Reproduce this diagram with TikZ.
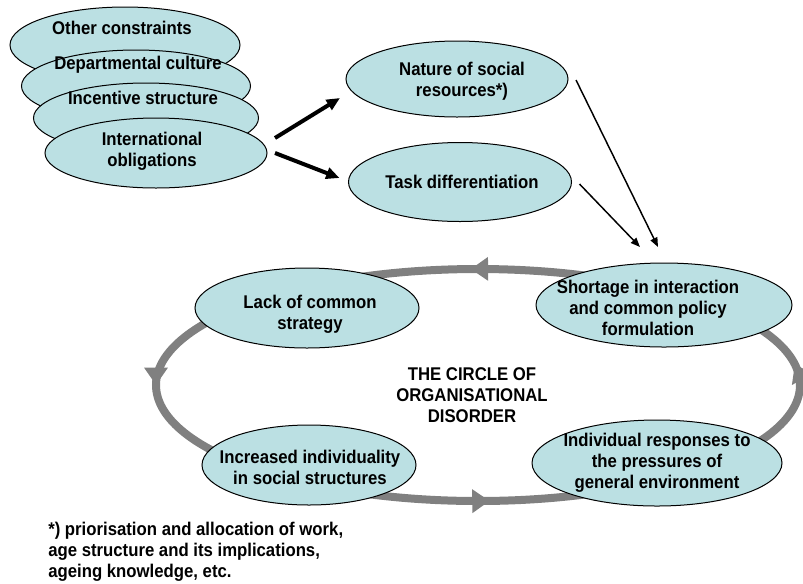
\documentclass[tikz,border=0pt]{standalone}
\usepackage{fontspec}
\setmainfont{Liberation Sans}[FakeStretch=0.91]
\usetikzlibrary{arrows.meta,decorations.markings,shapes.geometric}
\definecolor{blobfill}{RGB}{187,224,227}
\definecolor{ringgrey}{RGB}{128,128,128}
\begin{document}
\begin{tikzpicture}[x=0.75pt,y=-0.75pt,
  blobnode/.style={ellipse,draw=black,line width=0.75pt,fill=blobfill,inner sep=0pt,outer sep=0pt},
  lbl/.style={align=center,font=\fontsize{13.8}{15.8}\selectfont\bfseries,inner sep=0pt},
  fat/.style={line width=3pt,-{Triangle[length=10pt,width=8.5pt]}},
  slim/.style={line width=1.1pt,-{Triangle[length=7pt,width=5.5pt]}}
]
\useasboundingbox (0,0) rectangle (803,583);

% the circle of disorder
\draw[ringgrey, line width=6pt, postaction={decorate},
  decoration={markings,
    mark=at position 0.242 with {\arrowreversed[ringgrey]{Triangle[length=13pt,width=17pt]}},
    mark=at position 0.5 with {\arrowreversed[ringgrey]{Triangle[length=13pt,width=17pt]}},
    mark=at position 0.745 with {\arrowreversed[ringgrey]{Triangle[length=13pt,width=17pt]}},
    mark=at position 0.985 with {\arrowreversed[ringgrey]{Triangle[length=13pt,width=17pt]}}}]
  (478,385) ellipse[x radius=322, y radius=116];

% stacked constraints
\node[blobnode, minimum width=172.5pt, minimum height=57pt] (oc) at (125,45) {};
\node[lbl] (octxt) at (122,28) {Other constraints};
\node[blobnode, minimum width=171.75pt, minimum height=54pt] (dc) at (136,86) {};
\node[lbl] (dctxt) at (138,65) {Departmental culture};
\node[blobnode, minimum width=168.75pt, minimum height=52.5pt] (is) at (146,118) {};
\node[lbl] (istxt) at (143,98) {Incentive structure};
\node[blobnode, minimum width=166.5pt, minimum height=52.5pt] (io) at (156,153) {};
\node[lbl] (iotxt) at (152,151) {International\\obligations};

% intermediate nodes
\node[blobnode, minimum width=166.5pt, minimum height=57pt] (nat) at (457,79) {};
\node[lbl] (nattxt) at (462,81) {Nature of social\\resources*)};
\node[blobnode, minimum width=167.25pt, minimum height=59.25pt] (task) at (460,182) {};
\node[lbl] (tasktxt) at (462,182) {Task differentiation};

% circle nodes
\node[blobnode, minimum width=192pt, minimum height=63pt] (short) at (664,305) {};
\node[lbl] (shorttxt) at (648,308) {Shortage in interaction\\and common policy\\formulation};
\node[blobnode, minimum width=168pt, minimum height=60pt] (lack) at (307,308) {};
\node[lbl] (lacktxt) at (310,314) {Lack of common\\strategy};
\node[blobnode, minimum width=160.5pt, minimum height=60pt] (incr) at (309,465) {};
\node[lbl] (incrtxt) at (310,467) {Increased individuality\\in social structures};
\node[blobnode, minimum width=187.5pt, minimum height=64.5pt] (indiv) at (657,463) {};
\node[lbl] (indivtxt) at (657,463) {Individual responses to\\the pressures of\\general environment};

\node[lbl] (centre) at (472,395) {THE CIRCLE OF\\ORGANISATIONAL\\DISORDER};

% arrows
\draw[fat] ([shift={(8,-15)}]io.east) -- ([shift={(-6,19)}]nat.west);
\draw[fat] ([shift={(8,0)}]io.east) -- ([shift={(-9,-4)}]task.west);
\draw[slim] ([shift={(8,1)}]nat.east) -- ([shift={(-6,-16)}]short.north);
\draw[slim] ([shift={(8,2)}]task.east) -- ([shift={(-24,-16)}]short.north);

% footnote
\node[lbl, align=left, anchor=west] (foot) at (48,552) {*) priorisation and allocation of work,\\age structure and its implications,\\ageing knowledge, etc.};
\end{tikzpicture}
\end{document}
